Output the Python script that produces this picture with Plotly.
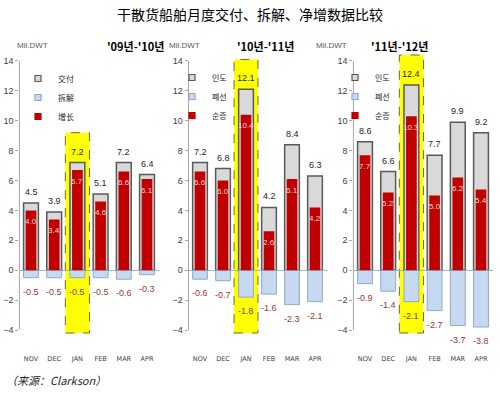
import plotly.graph_objects as go

# data (Mil.DWT)
months = ["NOV", "DEC", "JAN", "FEB", "MAR", "APR"]
periods = ["'09년-'10년", "'10년-'11년", "'11년-'12년"]

delivery_0910 = [4.5, 3.9, 7.2, 5.1, 7.2, 6.4]
scrap_0910 = [-0.5, -0.5, -0.5, -0.5, -0.6, -0.3]
net_0910 = [4.0, 3.4, 6.7, 4.6, 6.6, 6.1]

delivery_1011 = [7.2, 6.8, 12.1, 4.2, 8.4, 6.3]
scrap_1011 = [-0.6, -0.7, -1.8, -1.6, -2.3, -2.1]
net_1011 = [6.6, 6.0, 10.4, 2.6, 6.1, 4.2]

delivery_1112 = [8.6, 6.6, 12.4, 7.7, 9.9, 9.2]
scrap_1112 = [-0.9, -1.4, -2.1, -2.7, -3.7, -3.8]
net_1112 = [7.7, 5.2, 10.3, 5.0, 6.2, 5.4]

legend_names = [["交付", "拆解", "增长"], ["인도", "폐선", "순증"], ["인도", "폐선", "순증"]]
highlight = "JAN"

W, H = 500, 401
GREY, GREY_LINE = "#d9d9d9", "#595959"
BLUE, BLUE_LINE = "#c6d9f1", "#8eaacb"
RED = "#c00000"
NUM_FONT = "Liberation Sans Narrow, Arial Narrow, sans-serif"
CJK_SC = "Noto Sans CJK SC"
CJK_KR = "Noto Sans CJK KR"

# panel placement in pixels
domains_px = [(19.4, 158.6), (188.5, 326.5), (353.4, 492.6)]
title_px = [105, 265, 430]
legend_px = [(18, 64), (172, 63), (335, 63)]
y_bottom_px, y_top_px = 334.5, 53.5

panels = [
    (delivery_0910, scrap_0910, net_0910),
    (delivery_1011, scrap_1011, net_1011),
    (delivery_1112, scrap_1112, net_1112),
]
styles = [(GREY, GREY_LINE), (BLUE, BLUE_LINE), (RED, RED)]

fig = go.Figure()
layout = dict(
    width=W, height=H,
    margin=dict(l=0, r=0, t=0, b=0),
    plot_bgcolor="white", paper_bgcolor="white",
    barmode="overlay",
    shapes=[], annotations=[],
)

for i, (delivery, scrap, net) in enumerate(panels):
    n = "" if i == 0 else str(i + 1)
    xa, ya = "x" + n, "y" + n
    leg = "legend" + n
    names = legend_names[i]
    lfont = CJK_SC if i == 0 else CJK_KR

    fig.add_trace(go.Bar(
        x=months, y=delivery, width=0.64, showlegend=False,
        marker=dict(color=GREY, line=dict(color=GREY_LINE, width=1.5)),
        xaxis=xa, yaxis=ya, hoverinfo="skip",
    ))
    fig.add_trace(go.Bar(
        x=months, y=scrap, width=0.64, showlegend=False,
        marker=dict(color=BLUE, line=dict(color=BLUE_LINE, width=1)),
        xaxis=xa, yaxis=ya, hoverinfo="skip",
    ))
    fig.add_trace(go.Bar(
        x=months, y=net, width=0.46, showlegend=False,
        marker=dict(color=RED, line=dict(width=0)),
        xaxis=xa, yaxis=ya, hoverinfo="skip",
    ))
    # small square legend keys
    for name, (fc, lc) in zip(names, styles):
        fig.add_trace(go.Scatter(
            x=[None], y=[None], mode="markers", name=name,
            marker=dict(symbol="square", size=6, color=fc, line=dict(color=lc, width=1.2)),
            xaxis=xa, yaxis=ya, legend=leg,
        ))

    d0, d1 = domains_px[i]
    layout["xaxis" + n] = dict(
        domain=[d0 / W, d1 / W], anchor=ya, showline=False, showgrid=False,
        ticks="outside", ticklen=18, tickcolor="rgba(0,0,0,0)",
        tickfont=dict(family="DejaVu Sans", size=6.5, color="#404040"),
        fixedrange=True,
    )
    layout["yaxis" + n] = dict(
        domain=[1 - y_bottom_px / H, 1 - y_top_px / H], anchor=xa,
        range=[-4.3, 14.5], tickvals=[-4, -2, 0, 2, 4, 6, 8, 10, 12, 14],
        showgrid=False, showline=False, zeroline=True, zerolinecolor="#a6b4c8",
        zerolinewidth=1, ticks="outside", ticklen=3, tickcolor="#a6a6a6",
        tickfont=dict(family=NUM_FONT, size=9, color="#404040"),
        fixedrange=True,
    )
    # y axis line only between -4 and 14
    layout["shapes"].append(dict(
        type="line", xref=xa + " domain", yref=ya, x0=0, x1=0, y0=-4, y1=14,
        line=dict(color="#a6a6a6", width=1),
    ))
    # yellow highlight behind the January bar
    k = months.index(highlight)
    layout["shapes"].append(dict(
        type="rect", xref=xa, yref=ya, x0=k - 0.52, x1=k + 0.52,
        y0=-4.2, y1=delivery[k] + 2.0, layer="below",
        fillcolor="#ffff00", line=dict(color="#6b6b2a", width=1, dash="dash"),
    ))

    for m, dv, sv, nv in zip(months, delivery, scrap, net):
        layout["annotations"].append(dict(
            x=m, y=dv, xref=xa, yref=ya, text=f"{dv:.1f}", showarrow=False,
            yshift=11, font=dict(family=NUM_FONT, size=9, color="#262626"),
        ))
        layout["annotations"].append(dict(
            x=m, y=nv, xref=xa, yref=ya, text=f"{nv:.1f}", showarrow=False,
            yshift=-11, font=dict(family=NUM_FONT, size=8, color="#ffd6d6"),
        ))
        layout["annotations"].append(dict(
            x=m, y=sv, xref=xa, yref=ya, text=f"{sv:.1f}", showarrow=False,
            yshift=-14, font=dict(family=NUM_FONT, size=9, color="#953735"),
        ))

    # unit label and panel title
    layout["annotations"].append(dict(
        x=d0 / W, y=1 - 45 / H, xref="paper", yref="paper", text="Mil.DWT",
        showarrow=False, xshift=-4, yanchor="middle",
        font=dict(family=NUM_FONT, size=8, color="#595959"),
    ))
    layout["annotations"].append(dict(
        x=title_px[i] / W, y=1 - 46 / H, xref="paper", yref="paper",
        text="<b>" + periods[i] + "</b>", showarrow=False, yanchor="middle",
        font=dict(family=CJK_KR, size=11, color="#000000"),
    ))

    lx, ly = legend_px[i]
    layout[leg] = dict(
        x=lx / W, y=1 - ly / H, xanchor="left", yanchor="top",
        bgcolor="rgba(0,0,0,0)", itemwidth=30, tracegroupgap=0,
        font=dict(family=lfont, size=8, color="#262626"),
    )

layout["annotations"].append(dict(
    x=0.5, y=1 - 14 / H, xref="paper", yref="paper", yanchor="middle",
    text="干散货船舶月度交付、拆解、净增数据比较", showarrow=False,
    font=dict(family=CJK_SC, size=14, color="#000000"),
))
layout["annotations"].append(dict(
    x=4 / W, y=1 - 380 / H, xref="paper", yref="paper", xanchor="left",
    yanchor="middle", text="<i>（来源：Clarkson）</i>", showarrow=False,
    font=dict(family=CJK_SC, size=11, color="#262626"),
))

fig.update_layout(**layout)
# drop the default page margin so the figure sits at the window corner
fig.write_html("out.html", config={"displayModeBar": False},
               post_script="document.body.style.margin='0';")
